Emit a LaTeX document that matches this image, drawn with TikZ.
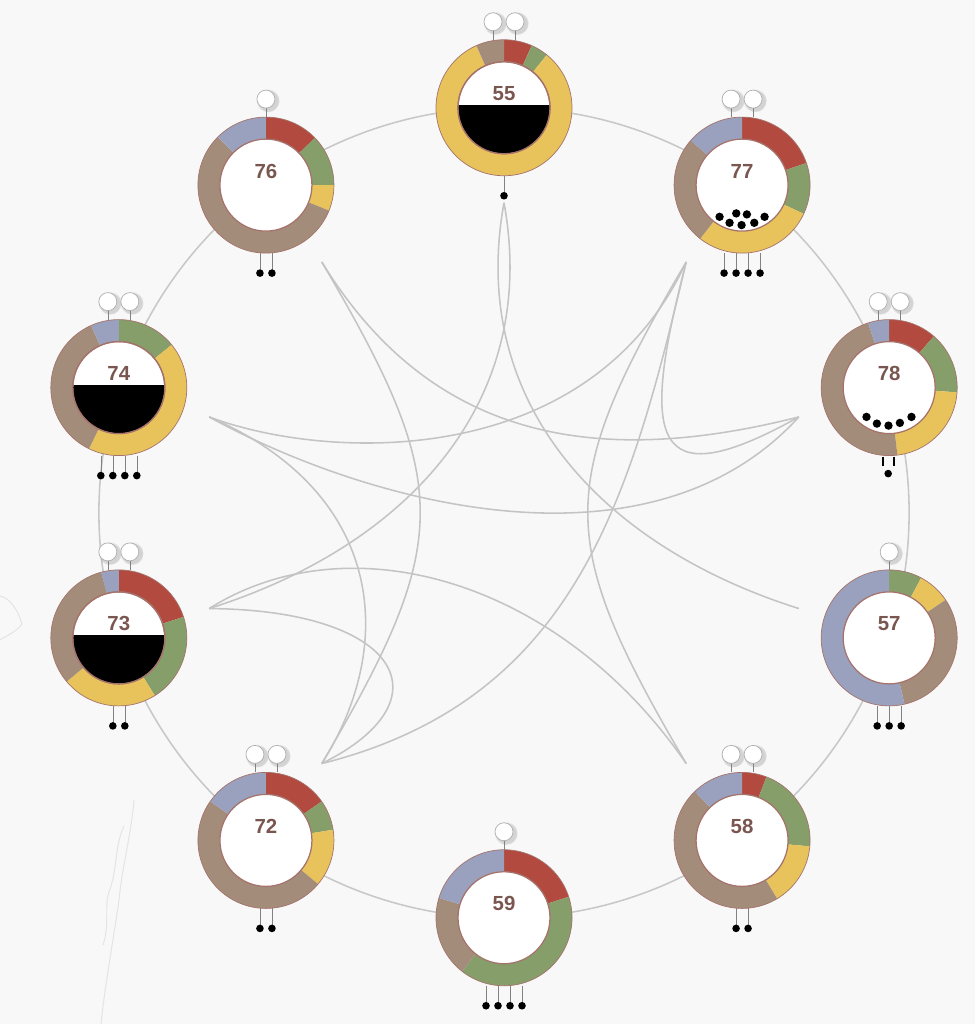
\documentclass[tikz,border=0pt]{standalone}
\usepackage{fontspec}
\setmainfont{Liberation Sans}
\usetikzlibrary{calc,shadows}
\definecolor{bgc}{RGB}{248,248,248}
\definecolor{cred}{RGB}{178,74,64}
\definecolor{cgreen}{RGB}{133,158,106}
\definecolor{cyellow}{RGB}{232,195,92}
\definecolor{cbrown}{RGB}{164,140,123}
\definecolor{cblue}{RGB}{153,161,191}
\definecolor{ringc}{RGB}{200,200,200}
\definecolor{rimc}{RGB}{165,115,108}
\definecolor{lblc}{RGB}{122,86,80}
\definecolor{edgec}{RGB}{196,196,196}
\definecolor{antc}{RGB}{175,175,175}
\definecolor{stemc}{RGB}{130,130,130}
\definecolor{faintc}{RGB}{228,228,228}
\pgfdeclareradialshading{innerdisc}{\pgfpoint{0bp}{0bp}}{%
  color(0bp)=(white); color(34bp)=(white); color(47bp)=(black!6); color(50bp)=(black!9)}
\tikzset{
  edgeline/.style={draw=edgec, line width=1.1pt},
  bigring/.style={draw=ringc, line width=1.1pt},
  faint/.style={draw=faintc, line width=0.7pt},
  loc/.style={x=0.025cm, y=0.025cm},
  numlbl/.style={font=\bfseries\fontsize{14.5}{14.5}\selectfont, text=lblc, inner sep=0pt},
  antenna/.style={draw=antc, fill=white, line width=0.5pt,
    circular drop shadow={shadow xshift=0.4mm, shadow yshift=-0.3mm, shadow scale=1.3, opacity=0.3}},
  stem/.style={draw=stemc, line width=0.45pt},
}
\newcommand{\donut}[2]{%
  \begin{scope}[shift={(#1)}, loc]
    \foreach \sa/\sb/\col in {#2}{%
      \fill[\col] ({90-\sa}:68) arc[start angle={90-\sa}, end angle={90-\sb}, radius=68]
        -- ({90-\sb}:46) arc[start angle={90-\sb}, end angle={90-\sa}, radius=46] -- cycle;}
    \draw[rimc, line width=0.5pt] (0,0) circle[radius=68];
    \shade[shading=innerdisc] (0,0) circle[radius=46];
    \draw[rimc, line width=0.9pt] (0,0) circle[radius=46];
  \end{scope}}
\newcommand{\halfblack}[1]{%
  \begin{scope}[shift={(#1)}, loc]
    \begin{scope}
      \clip (0,0) circle[radius=45.6];
      \fill[black] (-50,3) rectangle (50,-50);
    \end{scope}
    \draw[rimc, line width=0.9pt] (0,0) circle[radius=46];
  \end{scope}}
\newcommand{\antennae}[2]{%
  \begin{scope}[shift={(#1)}, loc]
    \foreach \xo in {#2}{%
      \draw[stem] (\xo,68) -- (\xo,78);
      \path[antenna] (\xo,86) circle[radius=9];}
  \end{scope}}
\newcommand{\feet}[2]{%
  \begin{scope}[shift={(#1)}, loc]
    \foreach \xo in {#2}{%
      \draw[stem] (\xo,-68) -- (\xo,-85);
      \fill[black] (\xo,-88) circle[radius=3.8];}
  \end{scope}}
\newcommand{\blobs}[2]{%
  \begin{scope}[shift={(#1)}, loc]
    \foreach \xo/\yo in {#2}{\fill[black] (\xo,\yo) circle[radius=4.2];}
  \end{scope}}
\begin{document}
\begin{tikzpicture}[x=0.025cm, y=-0.025cm]
\fill[bgc] (0,0) rectangle (975,1024);
\useasboundingbox (0,0) rectangle (975,1024);
% faint background traces
\draw[faint] (0,596) .. controls (10,598) and (18,610) .. (22,624) .. controls (16,632) and (6,636) .. (0,640);
\draw[faint] (134,800) .. controls (131,835) and (122,868) .. (119,900) .. controls (113,942) and (105,985) .. (101,1024);
\draw[faint] (124,826) .. controls (114,848) and (118,868) .. (109,892) .. controls (104,905) and (110,925) .. (103,945);
% node centres
\coordinate (c0) at (504,512.75);
\coordinate (n55) at (504,107.75);
\coordinate (n77) at (742.06,185.1);
\coordinate (n78) at (889.18,387.6);
\coordinate (n57) at (889.18,637.9);
\coordinate (n58) at (742.06,840.4);
\coordinate (n59) at (504,917.75);
\coordinate (n72) at (265.94,840.4);
\coordinate (n73) at (118.82,637.9);
\coordinate (n74) at (118.82,387.6);
\coordinate (n76) at (265.94,185.1);
% edge anchors
\coordinate (a55) at (504,202.75);
\coordinate (a77) at (686.21,261.95);
\coordinate (a78) at (798.83,416.95);
\coordinate (a57) at (798.83,608.55);
\coordinate (a58) at (686.21,763.55);
\coordinate (a72) at (321.79,763.55);
\coordinate (a73) at (209.17,608.55);
\coordinate (a74) at (209.17,416.95);
\coordinate (a76) at (321.79,261.95);
% big circle
\draw[bigring] (c0) circle[radius=10.125cm];
% edges
\draw[edgeline] (a76) .. controls (453,485) and (453,540) .. (a72);
\draw[edgeline] (a76) .. controls (432,442) and (599,467.5) .. (a78);
\draw[edgeline] (a74) .. controls (330,462) and (590,470) .. (a77);
\draw[edgeline] (a74) .. controls (370,505) and (650,580) .. (a78);
\draw[edgeline] (a74) .. controls (380,490) and (400,640) .. (a72);
\draw[edgeline] (a73) .. controls (350,520) and (560,580) .. (a58);
\draw[edgeline] (a73) .. controls (400,610) and (450,700) .. (a72);
\draw[edgeline] (a55) .. controls (540,400) and (410,545) .. (a73);
\draw[edgeline] (a55) .. controls (468,400) and (598,545) .. (a57);
\draw[edgeline] (a78) .. controls (650,500) and (640,440) .. (a77);
\draw[edgeline] (a77) .. controls (555,485) and (555,540) .. (a58);
\draw[edgeline] (a77) .. controls (630,500) and (575,700) .. (a72);
% donuts
\donut{n55}{0/24/cred, 24/39/cgreen, 39/336/cyellow, 336/360/cbrown}
\donut{n77}{0/71/cred, 71/115/cgreen, 115/218/cyellow, 218/311/cbrown, 311/360/cblue}
\donut{n78}{0/41/cred, 41/94/cgreen, 94/173/cyellow, 173/342/cbrown, 342/360/cblue}
\donut{n57}{0/28/cgreen, 28/56/cyellow, 56/167/cbrown, 167/360/cblue}
\donut{n58}{0/21/cred, 21/95/cgreen, 95/149/cyellow, 149/316/cbrown, 316/360/cblue}
\donut{n59}{0/72/cred, 72/218/cgreen, 218/287/cbrown, 287/360/cblue}
\donut{n72}{0/55/cred, 55/81/cgreen, 81/130/cyellow, 130/305/cbrown, 305/360/cblue}
\donut{n73}{0/72/cred, 72/148/cgreen, 148/230/cyellow, 230/345/cbrown, 345/360/cblue}
\donut{n74}{0/51/cgreen, 51/206/cyellow, 206/336/cbrown, 336/360/cblue}
\donut{n76}{0/46/cred, 46/90/cgreen, 90/112/cyellow, 112/315/cbrown, 315/360/cblue}
\halfblack{n55}
\halfblack{n73}
\halfblack{n74}
% labels
\node[numlbl] (l55) at ($(n55)+(0,-14)$) {55};
\node[numlbl] (l77) at ($(n77)+(0,-14)$) {77};
\node[numlbl] (l78) at ($(n78)+(0,-14)$) {78};
\node[numlbl] (l57) at ($(n57)+(0,-14)$) {57};
\node[numlbl] (l58) at ($(n58)+(0,-14)$) {58};
\node[numlbl] (l59) at ($(n59)+(0,-14)$) {59};
\node[numlbl] (l72) at ($(n72)+(0,-14)$) {72};
\node[numlbl] (l73) at ($(n73)+(0,-14)$) {73};
\node[numlbl] (l74) at ($(n74)+(0,-14)$) {74};
\node[numlbl] (l76) at ($(n76)+(0,-14)$) {76};
% antennae
\antennae{n55}{-11,11}
\antennae{n77}{-11,11}
\antennae{n78}{-11,11}
\antennae{n57}{0}
\antennae{n58}{-11,11}
\antennae{n59}{0}
\antennae{n72}{-11,11}
\antennae{n73}{-11,11}
\antennae{n74}{-11,11}
\antennae{n76}{0}
% feet
\feet{n55}{0}
\feet{n77}{-18,-6,6,18}
\feet{n57}{-12,0,12}
\feet{n58}{-6,6}
\feet{n59}{-18,-6,6,18}
\feet{n72}{-6,6}
\feet{n73}{-6,6}
\feet{n74}{-18,-6,6,18}
\feet{n76}{-6,6}
\begin{scope}[shift={(n78)}, loc]
  \draw[black, line width=1.6pt] (-6,-69) -- (-6,-78);
  \draw[black, line width=1.6pt] (5,-69) -- (5,-78);
  \fill[black] (-1,-86) circle[radius=3.8];
\end{scope}
% inner blobs
\blobs{n77}{-22.5/-31.7, -5.8/-28.3, 4.8/-29.3, 22.5/-31.7, -12.5/-37.7, -0.5/-40, 12.2/-37.7}
\blobs{n78}{-22.7/-29.3, -12.3/-36, -0.7/-38, 10.7/-35.3, 22.3/-29.3}
\end{tikzpicture}
\end{document}
